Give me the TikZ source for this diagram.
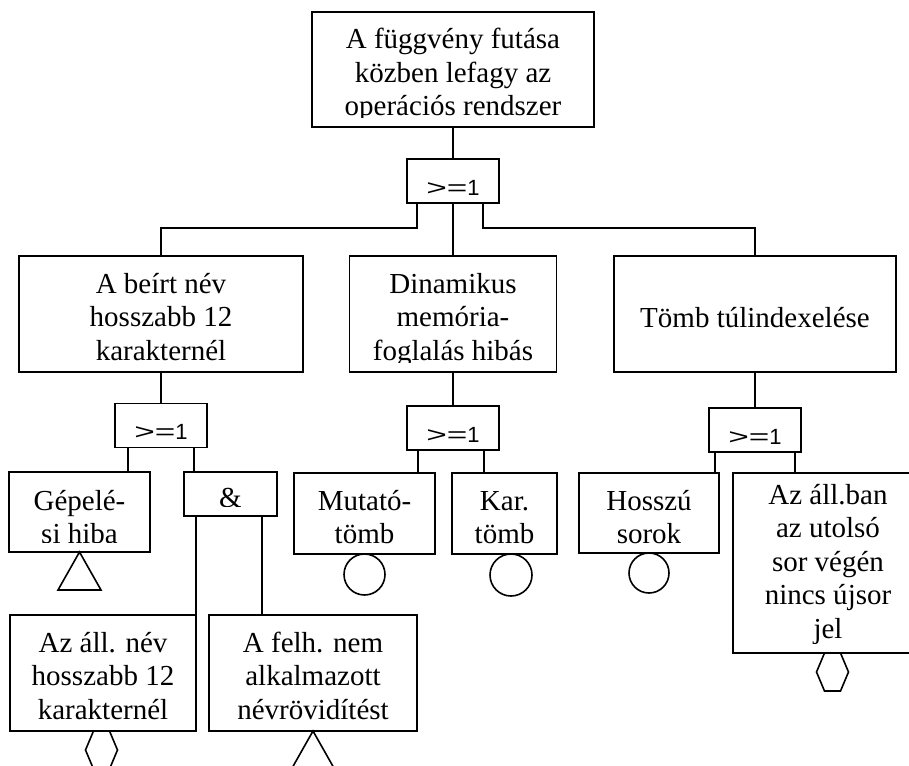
\documentclass[tikz,border=0pt]{standalone}
\usepackage{fontspec}
\setmainfont{Liberation Serif}
\newfontfamily\gatefont{Liberation Sans}
\usepackage{graphicx}
\tikzset{
  frame/.style={draw, line width=1.6pt, inner sep=0pt, outer sep=0pt},
  txt/.style={align=center, inner sep=0pt, anchor=base, font=\fontsize{29}{33.5}\selectfont},
  gtxt/.style={inner sep=0pt, anchor=base, font=\gatefont\fontsize{22}{26}\selectfont},
  wire/.style={line width=1.6pt},
  sym/.style={line width=1.6pt},
}
% #6 = distance from the top edge to the baseline of the LAST line
\newcommand\ftbox[7]{%
  \node[frame, minimum width=#4pt, minimum height=#5pt] (#1) at (#2,#3) {};
  \begin{scope}
    \clip ([yshift=10pt]#1.south west) rectangle ([yshift=2pt]#1.north east);
    \node[txt] (#1-t) at ([yshift=-#6pt]#1.north) {#7};
  \end{scope}}
\newcommand\gatesym{\scalebox{1.6}[1]{>}\scalebox{1.6}[1]{=}1}
\newcommand\ftgate[3]{%
  \node[frame, minimum width=92pt, minimum height=44pt] (#1) at (#2,#3) {};
  \node[gtxt] (#1-t) at ([yshift=-36pt]#1.north) {\gatesym};}
\begin{document}
\begin{tikzpicture}[x=1pt, y=-1pt]
\useasboundingbox (0,0) rectangle (909,765);
% boxes
\ftbox{top}{453}{69.5}{282}{115}{104}{A függvény futása\\közben lefagy az\\operációs rendszer}
\ftgate{g0}{453}{181}
\ftbox{b1}{161}{314}{284}{116}{104}{A beírt név\\hosszabb 12\\karakternél}
\ftbox{b2}{453}{314}{207}{116}{104}{Dinamikus\\memória-\\foglalás hibás}
\ftbox{b3}{755}{314}{282}{116}{71}{Tömb túlindexelése}
\ftgate{g1}{161}{425.5}
\ftgate{g2}{453}{428}
\ftgate{g3}{755}{430}
\ftbox{gep}{79.5}{512}{141}{80}{71.5}{Gépelé-\\si hiba}
\ftbox{amp}{230.5}{494}{93}{44}{35}{\&}
\ftbox{mut}{364.5}{513.5}{141}{81}{70.5}{Mutató-\\tömb}
\ftbox{kar}{504.5}{513.5}{105}{81}{70.5}{Kar.\\tömb}
\ftbox{hos}{649}{513}{140}{80}{70.5}{Hosszú\\sorok}
\ftbox{all}{828}{563}{190}{180}{165}{Az áll.ban\\az utolsó\\sor végén\\nincs újsor\\jel}
\ftbox{azn}{103}{673}{186}{116}{104}{Az áll. név\\hosszabb 12\\karakternél}
\ftbox{fel}{313}{673}{208}{116}{104}{A felh. nem\\alkalmazott\\névrövidítést}
% connectors
\draw[wire] (top.south) -- (g0.north);
\draw[wire] ([xshift=10pt]g0.south west) -- ++(0,25) -| (b1.north);
\draw[wire] (g0.south) -- (b2.north);
\draw[wire] ([xshift=-16pt]g0.south east) -- ++(0,25) -| (b3.north);
\draw[wire] (b1.south) -- (g1.north);
\draw[wire] (b2.south) -- (g2.north);
\draw[wire] (b3.south) -- (g3.north);
\coordinate (g1a) at ([xshift=13pt]g1.south west);
\coordinate (g1b) at ([xshift=-13pt]g1.south east);
\coordinate (g2a) at ([xshift=11pt]g2.south west);
\coordinate (g2b) at ([xshift=-15pt]g2.south east);
\coordinate (g3a) at ([xshift=6pt]g3.south west);
\coordinate (g3b) at ([xshift=-6pt]g3.south east);
\coordinate (ampa) at ([xshift=12pt]amp.south west);
\coordinate (ampb) at ([xshift=-15pt]amp.south east);
\draw[wire] (g1a) -- (g1a |- gep.north);
\draw[wire] (g1b) -- (g1b |- amp.north);
\draw[wire] (g2a) -- (g2a |- mut.north);
\draw[wire] (g2b) -- (g2b |- kar.north);
\draw[wire] (g3a) -- (g3a |- hos.north);
\draw[wire] (g3b) -- (g3b |- all.north);
\draw[wire] (ampa) -- (ampa |- azn.north);
\draw[wire] (ampb) -- (ampb |- fel.north);
% event symbols
\draw[sym] (gep.south) -- ++(-21.5,38) -- ++(43,0) -- cycle;
\draw[sym] ([yshift=-20.5pt]mut.south) circle[radius=20.5pt];
\draw[sym] ([xshift=6.5pt,yshift=-21pt]kar.south) circle[radius=21pt];
\draw[sym] ([yshift=-20pt]hos.south) circle[radius=20pt];
\draw[sym] ([xshift=4.5pt]all.south) ++(-8,0) -- ++(16,0) -- ++(8,19) -- ++(-8,19) -- ++(-16,0) -- ++(-8,-19) -- cycle;
\draw[sym] ([xshift=-1.5pt]azn.south) ++(-8,0) -- ++(16,0) -- ++(8,19) -- ++(-8,19) -- ++(-16,0) -- ++(-8,-19) -- cycle;
\draw[sym] (fel.south) -- ++(-21.5,38) -- ++(43,0) -- cycle;
\end{tikzpicture}
\end{document}
